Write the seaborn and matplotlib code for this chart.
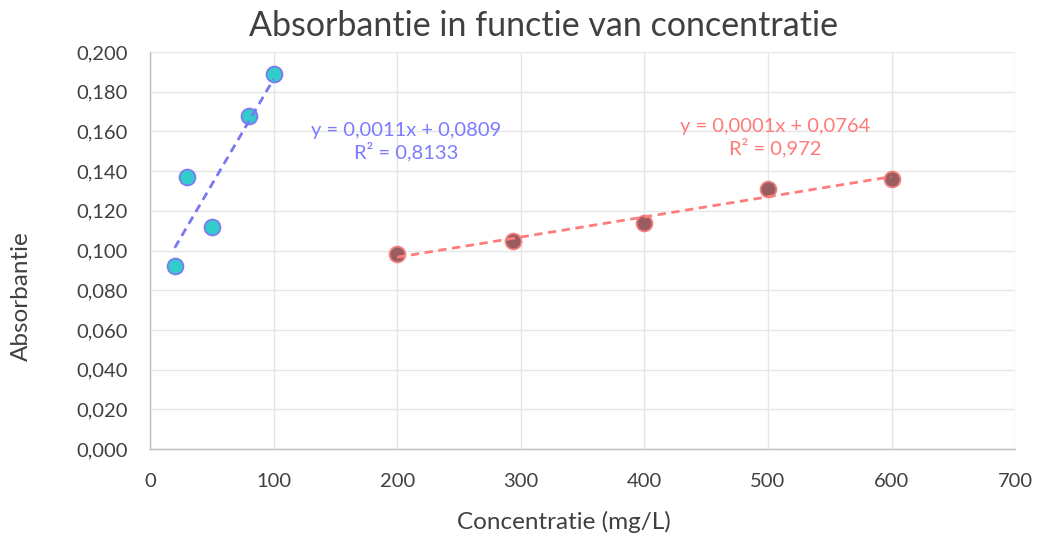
import numpy as np
import pandas as pd
import seaborn as sns
import matplotlib
matplotlib.use("Agg")
import matplotlib.pyplot as plt
from matplotlib.ticker import FuncFormatter, MultipleLocator

# Low-concentration series
low_conc = [20, 30, 50, 80, 100]
low_abs = [0.092, 0.137, 0.112, 0.168, 0.189]

# High-concentration series
high_conc = [200, 294, 400, 500, 600]
high_abs = [0.098, 0.105, 0.114, 0.131, 0.136]

low_eq = "y = 0,0011x + 0,0809\nR² = 0,8133"
high_eq = "y = 0,0001x + 0,0764\nR² = 0,972"

title = "Absorbantie in functie van concentratie"
xlabel = "Concentratie (mg/L)"
ylabel = "Absorbantie"

sns.set_theme(style="white")
plt.rcParams["font.family"] = ["Lato", "DejaVu Sans"]

low = pd.DataFrame({"c": low_conc, "a": low_abs})
high = pd.DataFrame({"c": high_conc, "a": high_abs})

fig = plt.figure(figsize=(10.38, 5.33), dpi=100)
ax = fig.add_axes([0.1445, 0.1576, 0.8335, 0.7448])

blue_line = "#7878F0"
red_line = "#FF7C7C"

sns.scatterplot(data=low, x="c", y="a", ax=ax, s=130, color="#33CCCC",
                edgecolor="#7B7BEF", linewidth=1.3, zorder=3)
sns.scatterplot(data=high, x="c", y="a", ax=ax, s=130, color="#9A5C5E",
                edgecolor="#F28080", linewidth=1.3, zorder=3)

sns.regplot(data=low, x="c", y="a", ax=ax, scatter=False, ci=None,
            truncate=True,
            line_kws=dict(color=blue_line, lw=2, ls=(0, (3, 2)), zorder=4))
sns.regplot(data=high, x="c", y="a", ax=ax, scatter=False, ci=None,
            truncate=True,
            line_kws=dict(color=red_line, lw=2, ls=(0, (3, 2)), zorder=4))

ax.text(207, 0.1548, low_eq, color="#7B7BFF", fontsize=14.5, ha="center",
        va="center", linespacing=1.15)
ax.text(506, 0.1568, high_eq, color="#FF7B7B", fontsize=14.5, ha="center",
        va="center", linespacing=1.15)

ax.set_xlim(0, 700)
ax.set_ylim(0, 0.2)
ax.xaxis.set_major_locator(MultipleLocator(100))
ax.yaxis.set_major_locator(MultipleLocator(0.02))
ax.yaxis.set_major_formatter(FuncFormatter(lambda v, p: f"{v:.3f}".replace(".", ",")))
ax.grid(True, color="#E6E6E6", lw=1)
ax.set_axisbelow(True)
for side in ("top", "right"):
    ax.spines[side].set_visible(False)
for side in ("left", "bottom"):
    ax.spines[side].set_color("#BFBFBF")
    ax.spines[side].set_linewidth(1)
ax.tick_params(axis="x", length=0, labelsize=14.5, colors="#404040", pad=17)
ax.tick_params(axis="y", length=0, labelsize=14.5, colors="#404040", pad=16)

ax.set_xlabel(xlabel, fontsize=17.5, color="#404040", va="center")
ax.set_ylabel(ylabel, fontsize=17.5, color="#404040", va="center")
ax.xaxis.set_label_coords(0.478, -0.183)
ax.yaxis.set_label_coords(-0.149, 0.385)
fig.text(0.5236, 0.952, title, fontsize=24.5, color="#404040", ha="center", va="center")

fig.savefig("out.png", dpi=100)
